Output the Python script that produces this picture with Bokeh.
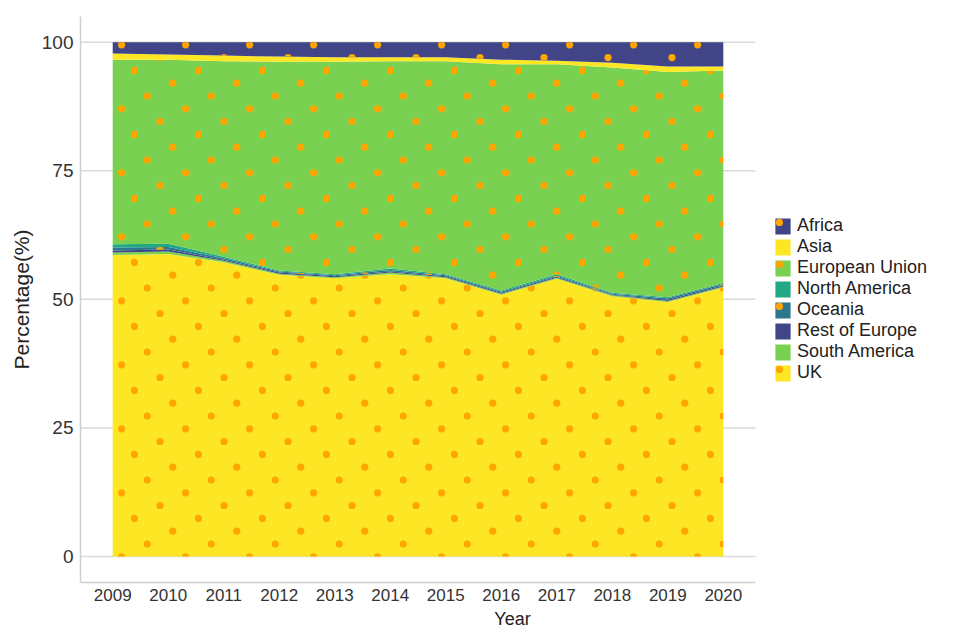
from urllib.parse import quote
from bokeh.plotting import figure
from bokeh.models import (ColumnDataSource, Range1d, FixedTicker, Legend,
                          LegendItem, ImageURLTexture)
from bokeh.transform import stack
from bokeh.embed import file_html
from bokeh.resources import INLINE

years = [2009, 2010, 2011, 2012, 2013, 2014, 2015, 2016, 2017, 2018, 2019, 2020]
uk = [58.6, 58.8, 57.2, 54.8, 54.1, 54.9, 54.1, 50.9, 54.0, 50.6, 49.5, 52.3]
south_america = [0.5, 0.5, 0.3, 0.2, 0.2, 0.3, 0.2, 0.2, 0.2, 0.2, 0.2, 0.2]
rest_of_europe = [0.4, 0.4, 0.2, 0.2, 0.2, 0.2, 0.2, 0.2, 0.2, 0.1, 0.2, 0.2]
oceania = [0.6, 0.5, 0.3, 0.2, 0.2, 0.3, 0.2, 0.2, 0.2, 0.2, 0.3, 0.3]
north_america = [0.6, 0.6, 0.3, 0.2, 0.2, 0.3, 0.2, 0.2, 0.3, 0.2, 0.2, 0.2]
european_union = [35.9, 35.8, 38.0, 40.6, 41.3, 40.3, 41.4, 44.0, 40.8, 43.8, 43.8, 41.3]
asia = [1.2, 1.0, 1.1, 1.0, 0.9, 0.8, 0.8, 0.9, 0.7, 0.9, 1.1, 0.8]
africa = [2.2, 2.4, 2.6, 2.8, 2.9, 2.9, 2.9, 3.4, 3.6, 4.0, 4.7, 4.7]

regions = ["UK", "South America", "Rest of Europe", "Oceania",
           "North America", "European Union", "Asia", "Africa"]
colors = ["#FDE725", "#7AD151", "#414487", "#2A788E",
          "#22A884", "#7AD151", "#FDE725", "#414487"]
hatched = [True, False, False, True, False, True, False, True]
y_ticks = [0, 25, 50, 75, 100]

keys = ["uk", "sa", "roe", "oce", "na", "eu", "asia", "africa"]
source = ColumnDataSource(dict(
    year=years, uk=uk, sa=south_america, roe=rest_of_europe, oce=oceania,
    na=north_america, eu=european_union, asia=asia, africa=africa))

# ---- dot texture: square tile holding a slightly rotated lattice of dots
TILE, NDOT, R = 64, 5, 3.6
step = TILE / NDOT
circles = "".join(
    f"<circle cx='{step * i + step / 2:.2f}' cy='{step * ((2 * i) % NDOT) + step / 2:.2f}' r='{R}'/>"
    for i in range(NDOT))
svg_tile = (f"<svg xmlns='http://www.w3.org/2000/svg' width='{TILE}' height='{TILE}'>"
            f"<g fill='#FFA500'>{circles}</g></svg>")
dot_texture = ImageURLTexture(url="data:image/svg+xml;charset=utf-8," + quote(svg_tile))

W, H = 948, 635
LEFT, RIGHT, TOP = 80, 4, 16
FRAME_H = 566
PLOT_W = 675                      # width of the data panel (pixels)
frame_w = W - LEFT - RIGHT
x_start, x_stop = 2008.42, 2020.58
x_end = x_start + (x_stop - x_start) * frame_w / PLOT_W

p = figure(width=W, height=H, output_backend="svg", toolbar_location=None,
           min_border_left=LEFT, min_border_right=RIGHT, min_border_top=TOP,
           min_border_bottom=H - TOP - FRAME_H,
           x_range=Range1d(x_start, x_end), y_range=Range1d(-5.06, 105.0))

p.segment(x0=x_start, x1=x_stop, y0=y_ticks, y1=y_ticks,
          line_color="#d9d9d9", line_width=1.5, level="underlay")

renderers = {}
for i, (k, name, c, h) in enumerate(zip(keys, regions, colors, hatched)):
    y1 = 0 if i == 0 else stack(*keys[:i])
    y2 = stack(*keys[:i + 1])
    kw = {}
    if h:
        kw = dict(hatch_pattern="dot", hatch_extra={"dot": dot_texture},
                  hatch_color="#FFA500", hatch_scale=TILE, hatch_weight=R)
    r = p.varea(x="year", y1=y1, y2=y2, source=source, fill_color=c, **kw)
    renderers[name] = r

items = [LegendItem(label=n, renderers=[renderers[n]]) for n in sorted(regions)]
legend = Legend(items=items, location=(693, 199), orientation="vertical",
                glyph_width=19, glyph_height=20, label_height=20,
                label_standoff=5, spacing=0, padding=0, margin=0,
                border_line_color=None, background_fill_alpha=0,
                label_text_font="Liberation Sans", label_text_font_size="18px",
                label_text_color="#222222")
p.add_layout(legend)

p.outline_line_color = None
p.xgrid.grid_line_color = None
p.ygrid.grid_line_color = None

p.xaxis.ticker = FixedTicker(ticks=years)
p.yaxis.ticker = FixedTicker(ticks=y_ticks)
p.xaxis.bounds = (x_start, x_stop)
for ax in (p.xaxis, p.yaxis):
    ax.axis_line_color = "#cfcfcf"
    ax.axis_line_width = 1.5
    ax.major_tick_line_color = None
    ax.minor_tick_line_color = None
    ax.major_tick_out = 0
    ax.major_tick_in = 0
    ax.minor_tick_out = 0
    ax.major_label_text_font = "Liberation Sans"
    ax.major_label_text_color = "#333333"
    ax.axis_label_text_font = "Liberation Sans"
    ax.axis_label_text_font_style = "normal"
    ax.axis_label_text_color = "#222222"

p.xaxis.major_label_text_font_size = "17px"
p.yaxis.major_label_text_font_size = "19px"
p.xaxis.major_label_standoff = 6
p.yaxis.major_label_standoff = 7
p.xaxis.axis_label = "Year"
p.yaxis.axis_label = "Percentage(%)"
p.xaxis.axis_label_text_font_size = "18px"
p.yaxis.axis_label_text_font_size = "21px"
p.xaxis.axis_label_standoff = 5
p.yaxis.axis_label_standoff = 6

open("out.html", "w").write(file_html(p, INLINE))
